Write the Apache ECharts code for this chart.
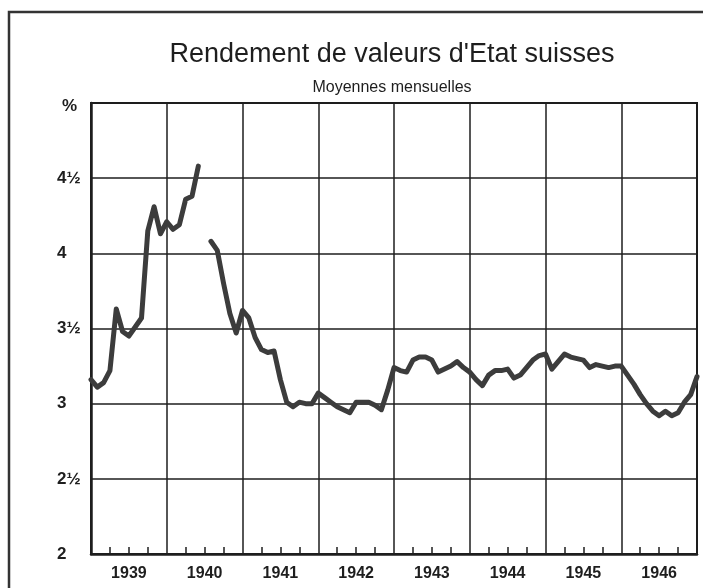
<!DOCTYPE html>
<html>
<head>
<meta charset="utf-8">
<title>Rendement de valeurs d'Etat suisses</title>
<script src="https://cdn.jsdelivr.net/npm/echarts@6/dist/echarts.min.js"></script>
<style>
  html, body { margin: 0; padding: 0; background: #fff; }
  #chart { width: 703px; height: 588px; }
</style>
</head>
<body>
<div id="chart"></div>
<script>
// yield in %, monthly averages, one array per year
const y1939 = [3.16, 3.11, 3.14, 3.22, 3.63, 3.48, 3.45, 3.51, 3.57, 4.15, 4.31, 4.13];
const y1940 = [4.21, 4.16, 4.19, 4.36, 4.38, 4.58, null, 4.08, 4.02, 3.80, 3.60, 3.47];
const y1941 = [3.62, 3.57, 3.44, 3.36, 3.34, 3.35, 3.16, 3.01, 2.98, 3.01, 3.00, 3.00];
const y1942 = [3.07, 3.04, 3.01, 2.98, 2.96, 2.94, 3.01, 3.01, 3.01, 2.99, 2.96, 3.09];
const y1943 = [3.24, 3.22, 3.21, 3.29, 3.31, 3.31, 3.29, 3.21, 3.23, 3.25, 3.28, 3.24];
const y1944 = [3.21, 3.16, 3.12, 3.19, 3.22, 3.22, 3.23, 3.17, 3.19, 3.24, 3.29, 3.32];
const y1945 = [3.33, 3.23, 3.28, 3.33, 3.31, 3.30, 3.29, 3.24, 3.26, 3.25, 3.24, 3.25];
const y1946 = [3.25, 3.19, 3.13, 3.06, 3.00, 2.95, 2.92, 2.95, 2.92, 2.94, 3.01, 3.06];
const y1947 = [3.18]; // janvier 1947, right edge

const years = ['1939', '1940', '1941', '1942', '1943', '1944', '1945', '1946'];
const yTicks = [2, 2.5, 3, 3.5, 4, 4.5, 5];
const yTickLabels = ['2', '2½', '3', '3½', '4', '4½', '%'];

const values = [].concat(y1939, y1940, y1941, y1942, y1943, y1944, y1945, y1946, y1947);
const seriesData = values.map((v, i) => [i, v]);

const FONT = "'Liberation Sans', Arial, sans-serif";
const INK = '#1e1e1e';

const chart = echarts.init(document.getElementById('chart'));
chart.setOption({
  backgroundColor: '#fff',
  animation: false,
  title: {
    text: "Rendement de valeurs d'Etat suisses",
    subtext: 'Moyennes mensuelles',
    left: 387,
    top: 36,
    textAlign: 'center',
    itemGap: 12,
    textStyle: { fontFamily: FONT, fontSize: 27, fontWeight: 'normal', color: INK },
    subtextStyle: { fontFamily: FONT, fontSize: 16, color: INK }
  },
  graphic: [{
    type: 'polyline',
    shape: { points: [[9, 588], [9, 12], [703, 12]] },
    style: { stroke: '#333', lineWidth: 2.5, fill: null }
  }],
  grid: {
    left: 91,
    right: 6,
    top: 103,
    bottom: 34,
    show: true,
    borderColor: INK,
    borderWidth: 2
  },
  xAxis: [
    {
      type: 'value',
      min: 0,
      max: 96,
      interval: 12,
      axisLine: { lineStyle: { color: INK, width: 2.5 } },
      axisTick: { show: false, inside: true },
      minorTick: { show: true, splitNumber: 4, length: 7, lineStyle: { color: INK, width: 1.5 } },
      axisLabel: { show: false },
      splitLine: { lineStyle: { color: INK, width: 1.5 } }
    },
    {
      type: 'category',
      position: 'bottom',
      data: years,
      boundaryGap: true,
      axisLine: { show: false },
      axisTick: { show: false },
      axisLabel: { margin: 12, fontFamily: FONT, fontSize: 16, fontWeight: 'bold', color: INK }
    }
  ],
  yAxis: {
    type: 'value',
    min: 2,
    max: 5,
    interval: 0.5,
    axisLine: { show: true, lineStyle: { color: INK, width: 2.5 } },
    axisTick: { show: false },
    axisLabel: {
      align: 'left',
      margin: 34,
      fontFamily: FONT,
      fontSize: 17,
      fontWeight: 'bold',
      color: INK,
      formatter: v => (v === 5 ? '{p|%}' : yTickLabels[yTicks.indexOf(v)]),
      rich: {
        p: { fontFamily: FONT, fontSize: 17, fontWeight: 'bold', color: INK, padding: [6, 0, 0, 5] }
      }
    },
    splitLine: { lineStyle: { color: INK, width: 1.5 } }
  },
  series: [{
    type: 'line',
    xAxisIndex: 0,
    data: seriesData,
    showSymbol: false,
    connectNulls: false,
    lineStyle: { color: '#3c3c3c', width: 5, join: 'round', cap: 'round' }
  }]
});
</script>
</body>
</html>
